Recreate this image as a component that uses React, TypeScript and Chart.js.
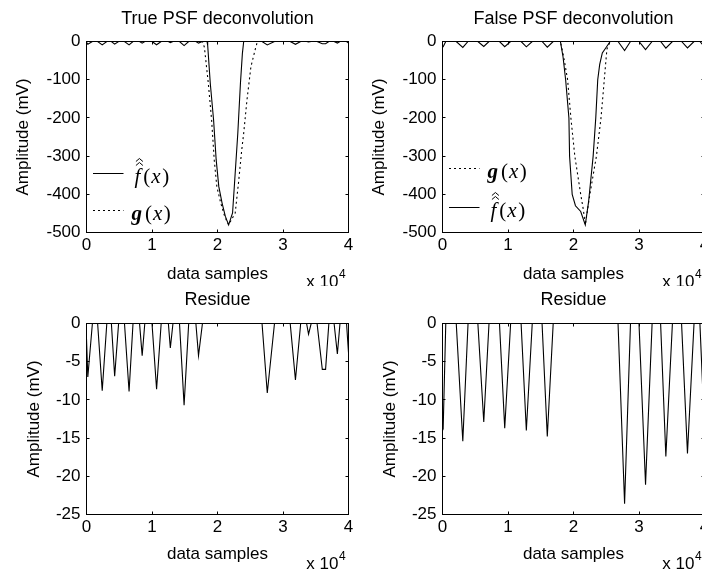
import React, { useEffect, useRef } from "react";
import { Chart, registerables } from "chart.js";

Chart.register(...registerables);

const SANS = "'Liberation Sans', Arial, Helvetica, sans-serif";
const SERIF = "'Liberation Serif', 'Times New Roman', serif";

// ---- axis ticks (x in units of 10^4 samples) ----
const xTickValues = [0, 1, 2, 3, 4];
const yTicksPulse = [-500, -400, -300, -200, -100, 0];
const yTicksResidue = [-25, -20, -15, -10, -5, 0];

// ---- True PSF deconvolution ----
const fTruePulseX = [1.84, 1.85, 1.89, 1.94, 1.98, 2.02, 2.07, 2.12, 2.17, 2.23, 2.26, 2.31, 2.35, 2.38, 2.40];
const fTruePulseY = [0, -10, -110, -205, -310, -380, -423, -458, -480, -449, -371, -240, -110, -31, 0];
const gTrueX = [0, 1.77, 1.80, 1.86, 1.91, 1.95, 1.99, 2.05, 2.11, 2.17, 2.27, 2.32, 2.37, 2.40, 2.45, 2.48, 2.51, 2.58, 2.61, 4];
const gTrueY = [0, 0, -15, -110, -205, -310, -380, -423, -458, -480, -449, -371, -284, -240, -153, -110, -66, -18, 0, 0];

// Residue (true PSF), mV
const resTrueX = [0, 0.02, 0.09, 0.17, 0.24, 0.31, 0.38, 0.43, 0.49, 0.58, 0.65, 0.71, 0.81, 0.85, 0.89, 1.0, 1.07, 1.14, 1.25, 1.28, 1.32, 1.42, 1.49, 1.56, 1.67, 1.71, 1.77, 2.68, 2.76, 2.87, 3.11, 3.19, 3.27, 3.36, 3.39, 3.43, 3.52, 3.6, 3.65, 3.7, 3.78, 3.83, 3.87, 3.97, 4.0];
const resTrueY = [-2, -7.0, 0, 0, -8.8, 0, 0, -6.9, 0, 0, -8.9, 0, 0, -4.2, 0, 0, -8.6, 0, 0, -3.2, 0, 0, -10.7, 0, 0, -4.2, 0, 0, -9.1, 0, 0, -7.4, 0, 0, -1.4, 0, 0, -6.0, -6.0, 0, 0, -4.0, 0, 0, -3.8];

// ---- False PSF deconvolution ----
const fFalsePulseX = [1.80, 1.84, 1.88, 1.93, 1.94, 1.98, 2.03, 2.11, 2.18, 2.23, 2.30, 2.34, 2.37, 2.40, 2.44, 2.50, 2.56];
const fFalsePulseY = [0, -40, -100, -200, -300, -400, -430, -445, -480, -420, -300, -200, -100, -60, -30, -15, 0];
const gFalseX = [0, 1.80, 1.85, 1.91, 1.96, 2.02, 2.11, 2.15, 2.18, 2.25, 2.35, 2.42, 2.47, 2.51, 2.56, 4];
const gFalseY = [0, 0, -40, -100, -200, -300, -400, -440, -480, -400, -300, -200, -100, -20, 0, 0];

const resFalseX = [0, 0.01, 0.05, 0.21, 0.31, 0.39, 0.54, 0.63, 0.71, 0.87, 0.95, 1.04, 1.2, 1.28, 1.37, 1.52, 1.6, 1.69, 2.68, 2.78, 2.87, 3.0, 3.1, 3.2, 3.33, 3.41, 3.51, 3.65, 3.74, 3.84, 3.93, 4.0];
const resFalseY = [-14, -13.8, 0, 0, -15.4, 0, 0, -12.9, 0, 0, -13.7, 0, 0, -14.0, 0, 0, -14.8, 0, 0, -23.6, 0, 0, -21.1, 0, 0, -17.4, 0, 0, -17.0, 0, 0, -14];

type Pt = { x: number; y: number };
const toPts = (xs: number[], ys: number[]): Pt[] => xs.map((x, i) => ({ x, y: ys[i] }));

function mergePulse(baseX: number[], baseY: number[], pulseX: number[], pulseY: number[]): Pt[] {
  const lo = pulseX[0];
  const hi = pulseX[pulseX.length - 1];
  const pts: Pt[] = [];
  baseX.forEach((x, i) => {
    if (x < lo || x > hi) pts.push({ x, y: baseY[i] });
  });
  pulseX.forEach((x, i) => pts.push({ x, y: pulseY[i] }));
  return pts.sort((a, b) => a.x - b.x);
}

type LegendRow = { kind: "f" | "g"; dash: boolean; y: number };

type PanelDef = {
  title: string;
  cl: number; ct: number; cw: number; ch: number;
  area: { l: number; t: number; r: number; b: number }; // relative to canvas
  yMin: number; yMax: number; yStep: number; yTicks: number[];
  titleCenter: number;
  xTitleFromBottom: number;
  yTitleCenter: number;
  datasets: { data: Pt[]; dash: boolean }[];
  legend: LegendRow[];
};

const topArea = { l: 86.5, t: 41.5, r: 348.5, b: 232.5 };
const botArea = { l: 86.5, t: 37.5, r: 348.5, b: 228.5 };

const panels: PanelDef[] = [
  {
    title: "True PSF deconvolution",
    cl: 0, ct: 0, cw: 356, ch: 286, area: topArea,
    yMin: -500, yMax: 0, yStep: 100, yTicks: yTicksPulse,
    titleCenter: 19.5, xTitleFromBottom: 12, yTitleCenter: 23.5,
    datasets: [
      { data: mergePulse(resTrueX, resTrueY, fTruePulseX, fTruePulseY), dash: false },
      { data: toPts(gTrueX, gTrueY), dash: true },
    ],
    legend: [
      { kind: "f", dash: false, y: 173.5 },
      { kind: "g", dash: true, y: 210.5 },
    ],
  },
  {
    title: "False PSF deconvolution",
    cl: 356, ct: 0, cw: 356, ch: 286, area: topArea,
    yMin: -500, yMax: 0, yStep: 100, yTicks: yTicksPulse,
    titleCenter: 19.5, xTitleFromBottom: 12, yTitleCenter: 23.5,
    datasets: [
      { data: mergePulse(resFalseX, resFalseY, fFalsePulseX, fFalsePulseY), dash: false },
      { data: toPts(gFalseX, gFalseY), dash: true },
    ],
    legend: [
      { kind: "g", dash: true, y: 168.5 },
      { kind: "f", dash: false, y: 207.5 },
    ],
  },
  {
    title: "Residue",
    cl: 0, ct: 286, cw: 356, ch: 287, area: botArea,
    yMin: -25, yMax: 0, yStep: 5, yTicks: yTicksResidue,
    titleCenter: 14, xTitleFromBottom: 18.5, yTitleCenter: 34.5,
    datasets: [{ data: toPts(resTrueX, resTrueY), dash: false }],
    legend: [],
  },
  {
    title: "Residue",
    cl: 356, ct: 286, cw: 356, ch: 287, area: botArea,
    yMin: -25, yMax: 0, yStep: 5, yTicks: yTicksResidue,
    titleCenter: 14, xTitleFromBottom: 18.5, yTitleCenter: 34.5,
    datasets: [{ data: toPts(resFalseX, resFalseY), dash: false }],
    legend: [],
  },
];

function drawLegend(ctx: CanvasRenderingContext2D, left: number, rows: LegendRow[]) {
  const FS = 21;
  rows.forEach((r) => {
    ctx.save();
    ctx.strokeStyle = "#000";
    ctx.lineWidth = 1;
    ctx.setLineDash(r.dash ? [2, 3] : []);
    ctx.beginPath();
    ctx.moveTo(left + 6.5, r.y);
    ctx.lineTo(left + 37, r.y);
    ctx.stroke();
    ctx.setLineDash([]);
    ctx.fillStyle = "#000";
    ctx.textBaseline = "alphabetic";
    ctx.textAlign = "left";
    let x = left + 45;
    const base = r.y + 9;
    if (r.kind === "f") {
      x += 3;
      ctx.font = `italic ${FS}px ${SERIF}`;
      const w = ctx.measureText("f").width;
      ctx.fillText("f", x, base);
      const cx = x + w / 2 + 2;
      ctx.beginPath();
      ctx.moveTo(cx - 3.5, base - 17);
      ctx.lineTo(cx, base - 20);
      ctx.lineTo(cx + 3.5, base - 17);
      ctx.moveTo(cx - 3.5, base - 21);
      ctx.lineTo(cx, base - 24);
      ctx.lineTo(cx + 3.5, base - 21);
      ctx.stroke();
      x += w + 3;
    } else {
      ctx.font = `italic bold ${FS}px ${SERIF}`;
      ctx.fillText("g", x, base);
      x += ctx.measureText("g").width + 3;
    }
    ctx.font = `${FS}px ${SERIF}`;
    ctx.fillText("(", x, base);
    x += ctx.measureText("(").width + 1;
    ctx.font = `italic ${FS}px ${SERIF}`;
    ctx.fillText("x", x, base);
    x += ctx.measureText("x").width + 1.5;
    ctx.font = `${FS}px ${SERIF}`;
    ctx.fillText(")", x, base);
    ctx.restore();
  });
}

function makePlugin(p: PanelDef) {
  return {
    id: "matlabBox",
    afterDraw(chart: any) {
      const ctx: CanvasRenderingContext2D = chart.ctx;
      const a = chart.chartArea;
      const xs = chart.scales.x;
      const ys = chart.scales.y;
      ctx.save();
      ctx.strokeStyle = "#000";
      ctx.lineWidth = 1;
      ctx.setLineDash([]);
      ctx.strokeRect(a.left, a.top, a.right - a.left, a.bottom - a.top);
      const tl = 3;
      ctx.beginPath();
      xTickValues.forEach((v) => {
        const px = Math.floor(xs.getPixelForValue(v)) + 0.5;
        ctx.moveTo(px, a.bottom);
        ctx.lineTo(px, a.bottom - tl);
        ctx.moveTo(px, a.top);
        ctx.lineTo(px, a.top + tl);
      });
      p.yTicks.forEach((v) => {
        const py = Math.floor(ys.getPixelForValue(v)) + 0.5;
        ctx.moveTo(a.left, py);
        ctx.lineTo(a.left + tl, py);
        ctx.moveTo(a.right, py);
        ctx.lineTo(a.right - tl, py);
      });
      ctx.stroke();
      // x 10^4 exponent label
      ctx.fillStyle = "#000";
      ctx.font = `17px ${SANS}`;
      ctx.textAlign = "right";
      ctx.textBaseline = "middle";
      ctx.fillText("x 10", a.right - 10, a.bottom + 50);
      ctx.font = `12px ${SANS}`;
      ctx.textAlign = "left";
      ctx.fillText("4", a.right - 9.5, a.bottom + 42.5);
      ctx.restore();
      if (p.legend.length) drawLegend(ctx, a.left, p.legend);
    },
  };
}

function PanelChart({ p }: { p: PanelDef }) {
  const ref = useRef<HTMLCanvasElement>(null);
  useEffect(() => {
    const a = p.area;
    const titleLH = 18 * 1.2;
    const tickLH = 17 * 1.2;
    const titleTop = p.titleCenter - titleLH / 2;
    const chart = new Chart(ref.current as HTMLCanvasElement, {
      type: "line",
      data: {
        datasets: p.datasets.map((d) => ({
          data: d.data,
          borderColor: "#000",
          borderWidth: 1.1,
          borderDash: d.dash ? [2, 3] : [],
          pointRadius: 0,
          fill: false,
          tension: 0,
        })),
      },
      options: {
        animation: false,
        responsive: false,
        maintainAspectRatio: false,
        devicePixelRatio: 1,
        events: [],
        layout: { padding: { left: 0, top: 0, right: p.cw - a.r, bottom: 0 } },
        plugins: {
          legend: { display: false },
          tooltip: { enabled: false },
          title: {
            display: true,
            text: p.title,
            fullSize: false,
            color: "#000",
            font: { family: SANS, size: 18, weight: "normal", lineHeight: 1.2 },
            padding: { top: titleTop, bottom: a.t - titleLH - titleTop },
          },
        },
        scales: {
          x: {
            type: "linear",
            position: "bottom",
            min: 0,
            max: 4,
            grid: { display: false, drawTicks: false },
            border: { display: false },
            ticks: {
              stepSize: 1,
              autoSkip: false,
              maxRotation: 0,
              color: "#000",
              padding: 12.5 - tickLH / 2,
              font: { family: SANS, size: 17 },
              callback: (v: any) => String(v),
            },
            title: {
              display: true,
              text: "data samples",
              color: "#000",
              font: { family: SANS, size: 17 },
              padding: { top: 0, bottom: p.xTitleFromBottom - tickLH / 2 },
            },
            afterFit: (s: any) => {
              s.height = p.ch - a.b;
            },
          },
          y: {
            type: "linear",
            position: "left",
            min: p.yMin,
            max: p.yMax,
            grid: { display: false, drawTicks: false },
            border: { display: false },
            ticks: {
              stepSize: p.yStep,
              autoSkip: false,
              color: "#000",
              padding: 6,
              font: { family: SANS, size: 17 },
              callback: (v: any) => String(v),
            },
            title: {
              display: true,
              text: "Amplitude (mV)",
              color: "#000",
              font: { family: SANS, size: 17 },
              padding: { top: p.yTitleCenter - tickLH / 2, bottom: 0 },
            },
            afterFit: (s: any) => {
              s.width = a.l;
            },
          },
        },
      },
      plugins: [makePlugin(p)],
    } as any);
    return () => chart.destroy();
  }, [p]);
  return (
    <canvas
      ref={ref}
      width={p.cw}
      height={p.ch}
      style={{ position: "absolute", left: p.cl, top: p.ct, width: p.cw, height: p.ch }}
    />
  );
}

export default function App() {
  return (
    <div
      style={{
        position: "fixed",
        left: 0,
        top: 0,
        width: 702,
        height: 573,
        overflow: "hidden",
        background: "#fff",
      }}
    >
      {panels.map((p, i) => (
        <PanelChart key={i} p={p} />
      ))}
    </div>
  );
}
